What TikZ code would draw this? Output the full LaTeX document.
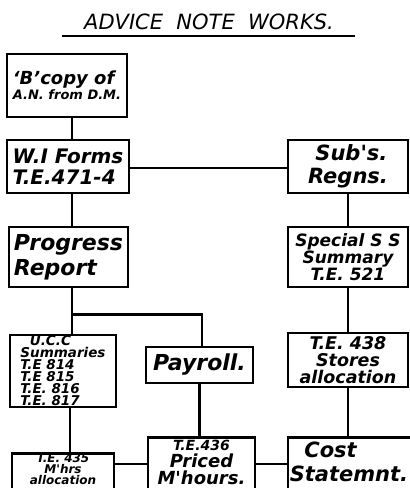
\documentclass[tikz,border=0pt]{standalone}
\usepackage{fontspec}
\newfontfamily\hand{DejaVu Sans}[LetterSpace=0]
\newcommand{\fs}[2]{\fontsize{#1}{#2}\selectfont}
\begin{document}
\begin{tikzpicture}[x=1pt,y=-1pt,
  box/.style={draw, line width=2.9pt, rectangle, inner sep=0pt, font=\hand\bfseries\itshape},
  txt/.style={inner sep=0pt, font=\hand\bfseries\itshape},
  ln/.style={line width=2.7pt}]
\clip (0,0) rectangle (410,488);
\fill[white] (0,0) rectangle (410,488);
% title
\node[font=\hand\itshape\fs{21}{24}, anchor=base] (title) at (209,29) {ADVICE\ \ NOTE\ \ WORKS.};
\draw[line width=2.6pt] (62,36) -- (355,36);
% boxes
\node[box, minimum width=120pt, minimum height=63pt, align=left] (b1) at (67,85.5) {{\fs{18}{22}‘B’copy of}\\{\fs{13}{18}A.N. from D.M.}};
\node[box, minimum width=122pt, minimum height=53pt, align=left, font=\hand\bfseries\itshape\fs{20}{21}] (b2) at (68,166.5) {W.I Forms\\T.E.471-4};
\node[box, minimum width=120pt, minimum height=53pt, align=left, font=\hand\bfseries\itshape\fs{21}{23}] (subs) at (348,166.5) {\ Sub's.\\Regns.};
\node[box, minimum width=119pt, minimum height=60pt, align=left, font=\hand\bfseries\itshape\fs{22}{25}] (prog) at (68.5,257) {Progress\\Report};
\node[box, minimum width=120pt, minimum height=60pt, align=center, font=\hand\bfseries\itshape\fs{17}{17}] (spec) at (348,257) {Special S S\\Summary\\T.E. 521};
\node[box, minimum width=106pt, minimum height=72pt, align=left, font=\hand\bfseries\itshape\fs{13.5}{12}] (ucc) at (63,371) {\ \ U.C.C\\Summaries\\T.E 814\\T.E 815\\T.E. 816\\T.E. 817};
\node[box, minimum width=107pt, minimum height=36pt, font=\hand\bfseries\itshape\fs{22}{24}] (pay) at (199.5,365) {Payroll.};
\node[box, minimum width=120pt, minimum height=54pt, align=center, font=\hand\bfseries\itshape\fs{17.5}{17}] (t438) at (348,360) {T.E. 438\\Stores\\allocation};
% bottom row (cut off by the lower edge)
\node[box, minimum width=102pt, minimum height=60pt, anchor=north] (t435) at (63,452) {};
\node[txt, anchor=north, align=center, font=\hand\bfseries\itshape\fs{12}{11}] (t435txt) at ([yshift=-1.5pt]t435.north) {T.E. 435\\M'hrs\\allocation};
\node[box, minimum width=107pt, minimum height=70pt, anchor=north] (t436) at (201.5,436) {};
\node[txt, anchor=north, align=center, font=\hand\bfseries\itshape\fs{18}{17}] (t436txt) at ([yshift=-4pt]t436.north) {{\fs{14}{14}T.E.436}\\Priced\\M'hours.};
\node[box, minimum width=124pt, minimum height=70pt, anchor=north] (cost) at (350,436) {};
\node[txt, anchor=north west, align=left, font=\hand\bfseries\itshape\fs{21}{24}] (costtxt) at ([xshift=3pt,yshift=-6pt]cost.north west) {\ \ Cost\\Statemnt.};
% connectors
\draw[ln] ([xshift=5pt]b1.south) -- ([xshift=5pt]b1.south |- b2.north);
\draw[ln] ([yshift=-1.5pt]b2.east) -- ([yshift=-1.5pt]b2.east -| subs.west);
\draw[ln] ([xshift=4pt]b2.south) -- ([xshift=4pt]b2.south |- prog.north);
\draw[ln] (subs.south) -- (spec.north);
\draw[ln] (spec.south) -- (spec.south |- t438.north);
\draw[ln] ([xshift=3.5pt]prog.south) -- ([xshift=3.5pt]prog.south |- ucc.north);
\draw[ln] ([xshift=3.5pt, yshift=-26pt]prog.south) -| ([xshift=2.5pt]pay.north);
\draw[ln] ([xshift=7pt]ucc.south) -- ([xshift=7pt]ucc.south |- t435.north);
\draw[ln] (pay.south) -- (pay.south |- t436.north);
\draw[ln] (t438.south) -- (t438.south |- cost.north);
\draw[ln] ([yshift=-12pt]t435.north east) -- ([yshift=-12pt]t435.north east -| t436.west);
\draw[ln] ([yshift=-28pt]t436.north east) -- ([yshift=-28pt]t436.north east -| cost.west);
\end{tikzpicture}
\end{document}
